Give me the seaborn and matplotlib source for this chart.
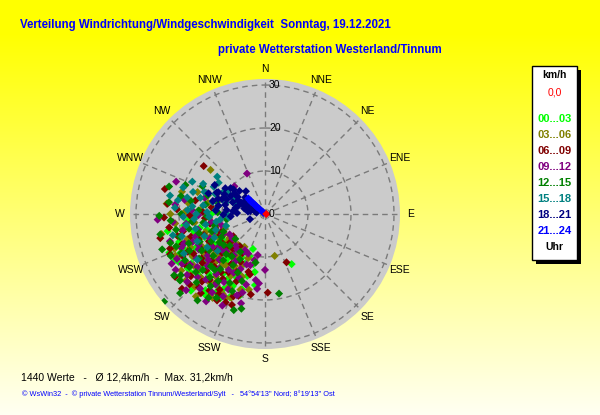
import numpy as np
import pandas as pd
import matplotlib
matplotlib.use('Agg')
import matplotlib.pyplot as plt
import seaborn as sns
from matplotlib.patches import Rectangle
from matplotlib import transforms

# ---------------- data (direction in degrees, speed in km/h) ----------------
hour_00_03 = [(197,18.3),(199,8.6),(190,13.7),(236,20.7),(229,20.9),(204,18.3),(211,14.9),(215,17.0),(222,19.5),(240,16.0),
              (245,22.0),(250,18.5),(232,12.5),(218,22.5),(208,11.5),(226,15.5),(238,13.0),(255,14.0),(262,19.0),(248,24.0),
              (214,20.0),(220,13.5),(227,24.0),(233,17.5),(243,11.0),(252,21.0),(258,15.5),(265,18.0),(270,12.5),(224,10.5),
              (212,21.5),(206,16.0),(217,9.5),(230,19.0),(241,23.0),(247,12.0),(235,22.0),(228,16.5),(219,14.5),(209,20.0),
              (244,18.0),(253,9.5),(260,23.0),(237,14.0),(225,12.0),(202,12.5),(216,11.0),(231,14.5),(239,19.5),(256,17.0),
              (152,13.2),(201,15.5),(207,19.0),(213,12.0),(221,17.0),(234,10.0),(242,14.0),(246,20.5),(226,21.0),(218,15.0),
              (210,17.5),(203,21.0),(236,16.5),(229,11.5),(215,22.0),(223,19.0),(239,11.5),(249,15.0),(232,22.0),(205,10.0),
              (196,15.0),(232,25.0),(216,23.4),(208,22.2),(197,19.7),(224,24.8),(188,16.7),(243,23.5),(193,12.0),(200,10.5)]
hour_03_06 = [(167,10.0),(309,16.3),(210,14.0),(218,18.5),(225,21.0),(232,15.0),(240,19.5),(248,13.5),(255,20.5),(263,16.5),
              (270,22.0),(278,18.0),(285,20.0),(214,23.0),(222,12.0),(229,17.5),(236,23.5),(244,10.5),(251,16.0),(259,24.5),
              (266,13.0),(274,15.0),(206,19.0),(212,9.0),(220,15.5),(227,10.0),(234,20.5),(242,14.5),(249,22.5),(257,11.5),
              (264,21.0),(272,18.5),(281,13.5),(200,15.5),(238,17.0),(246,19.0),(253,14.5),(261,18.5),(226,13.0),(233,11.0),
              (219,20.5),(241,12.0),(268,17.0),(276,23.0),(288,16.5),(205,21.5),(215,12.5),(223,17.0),(231,22.5),(250,10.0),
              (198,18.5),(204,13.0),(209,16.5),(216,20.0),(221,9.5),(228,14.5),(235,18.5),(243,16.5),(230,20.0),(224,23.5),
              (211,11.5),(217,15.0),(239,21.5),(247,13.0),(208,21.0),(236,10.0),(252,19.0),(201,11.0),(226,16.0),(233,13.5),
              (230,24.0),(212,23.0),(202,21.0),(245,23.0),(220,25.0),(192,18.0)]
hour_06_09 = [(308,18.1),(156,12.3),(178,18.3),(276,22.8),(219,23.7),(212,16.0),(220,20.0),(228,13.5),(235,18.0),(243,21.5),
              (251,15.0),(258,19.5),(266,14.0),(273,20.5),(281,16.5),(207,12.5),(216,22.0),(224,17.0),(231,10.5),(239,14.5),
              (247,24.0),(254,12.0),(262,22.5),(269,17.5),(284,24.0),(203,17.0),(211,20.5),(222,11.0),(230,22.5),(237,16.0),
              (245,11.5),(253,18.0),(260,13.0),(268,23.5),(277,12.5),(214,14.0),(226,19.0),(233,14.0),(241,19.0),(249,16.5),
              (256,21.0),(264,17.0),(272,14.5),(198,20.0),(209,23.0),(218,9.5),(236,12.0),(257,25.0),(244,20.0),(229,16.5),
              (196,14.0),(201,20.5),(206,15.0),(213,18.0),(219,12.5),(225,15.0),(232,18.5),(238,22.0),(244,14.5),(250,20.5),
              (210,10.5),(217,17.0),(223,21.5),(229,12.0),(235,9.0),(242,17.0),(248,11.0),(204,22.5),(227,24.0),(215,19.5),
              (235,25.5),(222,23.0),(210,21.5),(200,22.5),(250,23.5),(228,26.0),(190,19.0),(194,14.5)]
hour_09_12 = [(336,10.3),(180,13.0),(312,9.6),(242,24.6),(185,16.2),(188,15.5),(195,17.0),(200,12.5),(207,21.5),(213,15.5),
              (221,23.0),(228,18.0),(235,13.0),(242,17.5),(250,20.0),(257,16.0),(265,21.5),(273,17.0),(280,19.0),(204,14.0),
              (211,18.5),(217,12.0),(225,15.0),(232,20.0),(239,22.5),(246,14.0),(254,23.0),(261,12.5),(269,15.5),(290,22.0),
              (193,11.0),(199,20.0),(215,20.0),(223,10.0),(230,13.0),(237,19.0),(244,11.0),(252,17.0),(259,19.5),(267,25.0),
              (276,21.0),(209,10.0),(220,16.5),(227,21.5),(234,16.5),(248,21.0),(256,10.5),(263,18.5),(285,14.5),(240,9.5),
              (196,19.0),(202,16.0),(206,19.5),(212,13.0),(219,18.0),(226,12.5),(231,17.0),(238,14.5),(245,17.0),(251,12.5),
              (208,15.5),(214,22.0),(222,20.5),(229,24.0),(236,21.0),(243,23.0),(218,10.5),(233,9.5),(203,10.0),(249,18.0),
              (226,25.5),(214,24.5),(205,23.5),(195,21.5),(238,24.5),(186,17.5),(232,23.0),(196,12.4),(190,9.7),(209,9.6)]
hour_12_15 = [(286,23.2),(269,24.6),(259,24.8),(251,25.3),(229,31.1),(194,22.7),(170,18.8),(282,20.0),(290,19.7),(234,24.2),
              (232,25.1),(294,15.9),(215,19.0),(222,14.5),(230,21.0),(237,15.5),(244,19.5),(252,13.0),(259,18.0),(266,22.0),
              (273,15.5),(280,17.5),(288,14.0),(210,22.5),(218,12.5),(226,17.5),(233,12.0),(240,21.5),(247,16.5),(255,20.5),
              (262,14.5),(270,19.5),(277,22.5),(284,11.5),(205,15.0),(213,10.5),(221,19.5),(228,11.0),(236,18.5),(243,14.0),
              (250,22.0),(257,12.0),(264,17.0),(272,11.0),(279,14.0),(225,22.5),(247,10.5),(268,13.5),(240,17.0),(262,9.0),
              (199,16.5),(207,18.0),(212,14.0),(219,16.5),(224,13.0),(231,15.5),(238,12.5),(245,21.5),(217,21.0),(228,19.5),
              (235,21.5),(242,11.5),(249,19.0),(209,12.0),(222,17.5),(203,19.5),(214,23.5),(230,9.0),(254,16.0),(260,21.0),
              (236,25.5),(218,25.5),(198,23.5),(246,24.0),(227,27.0),(253,23.0),(191,11.5)]
hour_15_18 = [(308,14.1),(252,12.0),(258,16.5),(263,10.5),(268,19.0),(272,13.5),(276,17.0),(280,11.0),(284,15.5),(288,20.0),
              (292,12.5),(296,16.0),(300,10.0),(304,13.0),(255,20.0),(260,14.0),(265,8.5),(270,16.0),(274,21.0),(278,14.5),
              (282,18.5),(286,9.5),(290,15.0),(294,18.5),(298,13.5),(302,8.5),(248,17.0),(253,9.5),(257,22.0),(262,18.5),
              (267,13.0),(271,9.0),(275,11.5),(279,20.5),(283,12.5),(287,17.5),(291,10.0),(295,8.0),(245,13.0),(240,15.5),
              (236,19.0),(232,14.0),(244,21.0),(250,15.0),(261,11.5),(266,16.5),(273,18.0),(281,22.5),(289,7.5),(297,11.0)]
hour_18_21 = [(320,6.9),(251,3.7),(308,9.3),(307,10.0),(280,11.0),(279,2.0),(294,12.3),(289,10.6),(269,9.7),(300,4.0),
              (296,6.0),(290,8.0),(285,5.0),(292,3.0),(302,7.5),(298,9.0),(288,11.5),(282,7.0),(276,9.0),(272,6.5),
              (286,2.5),(293,5.5),(299,2.0),(305,4.5),(310,6.0),(304,8.5),(296,10.5),(283,9.5),(278,4.0),(274,11.5),
              (287,6.5),(291,9.5),(297,7.0),(301,5.5),(306,3.0),(295,12.0),(284,12.5),(281,3.5),(289,4.5),(303,11.0),
              (266,8.0),(275,7.5),(312,8.0),(300,13.5),(290,14.0)]
hour_21_24 = [(313,5.3),(312,4.9),(313,4.6),(311,4.2),(312,3.8),(313,3.3),(312,2.9),(311,2.5),(313,2.0),(312,1.6),
              (312,1.1),(314,0.7),(310,0.4)]
calm = [(90,0.3)]

hour_labels = ["00...03", "03...06", "06...09", "09...12", "12...15", "15...18", "18...21", "21...24"]
hour_colors = ["#00FF00", "#808000", "#800000", "#800080", "#008000", "#008080", "#000080", "#0000FF"]
calm_label = "0,0"
calm_color = "#FF0000"
direction_labels = ["N", "NNE", "NE", "ENE", "E", "ESE", "SE", "SSE",
                    "S", "SSW", "SW", "WSW", "W", "WNW", "NW", "NNW"]
ring_values = [0, 10, 20, 30]

# ---------------- build table ----------------
rows = []
for lab, pts in zip(hour_labels + [calm_label],
                    [hour_00_03, hour_03_06, hour_06_09, hour_09_12, hour_12_15,
                     hour_15_18, hour_18_21, hour_21_24, calm]):
    for d, v in pts:
        rows.append((np.deg2rad(d), v, lab))
df = pd.DataFrame(rows, columns=["theta", "r", "hour"])

sns.set_theme(style="white")
plt.rcParams['font.family'] = ['Liberation Sans', 'DejaVu Sans']

W, H = 600, 415
fig = plt.figure(figsize=(W / 100, H / 100), dpi=100)

def fx(x):
    return x / W

def fy(y):
    return 1 - y / H

# background gradient
bg = fig.add_axes([0, 0, 1, 1], zorder=-5)
g = np.linspace(0, 1, 300)
img = np.ones((300, 1, 3))
img[:, 0, 2] = np.clip((g - 0.08) / 0.92, 0, 1) * 0.95
bg.imshow(img, aspect='auto', extent=[0, 1, 0, 1], origin='upper')
bg.set_axis_off()

# polar axes
cx, cy, R = 265, 214, 135
ax = fig.add_axes([fx(cx - R), fy(cy + R), 2 * R / W, 2 * R / H], projection='polar')
ax.set_theta_zero_location('N')
ax.set_theta_direction(-1)
ax.set_facecolor('#CBCBCB')

sns.scatterplot(data=df, x="theta", y="r", hue="hour",
                hue_order=hour_labels + [calm_label],
                palette=hour_colors + [calm_color],
                marker='D', s=17, linewidth=0, legend=False, ax=ax, zorder=3)
ax.set_xlabel("")
ax.set_ylabel("")
rmax = 31.4
ax.set_ylim(0, rmax)
ax.set_xticks(np.deg2rad(np.arange(0, 360, 22.5)))
ax.set_xticklabels([])
ax.set_yticks([10, 20, 30])
ax.set_yticklabels([])
ax.grid(True, color='#7A7A7A', linestyle=(0, (4, 3)), linewidth=1)
ax.spines['polar'].set_visible(False)
ax.set_axisbelow(True)
ax.tick_params(length=0)

offset = transforms.ScaledTranslation(0.04, 0, fig.dpi_scale_trans)
for rv in ring_values:
    ax.text(0, rv, str(rv), transform=ax.transData + offset, ha='left', va='center',
            fontsize=7.5, color='black', zorder=5)

for i, lab in enumerate(direction_labels):
    ax.text(np.deg2rad(i * 22.5), 33.8, lab, ha='center', va='center',
            fontsize=7.5, color='black', clip_on=False)

# titles
fig.text(fx(20), fy(25), "Verteilung Windrichtung/Windgeschwindigkeit  Sonntag, 19.12.2021",
         color='#0000FF', fontsize=8.3, fontweight='bold', ha='left', va='center')
fig.text(fx(218), fy(50), "private Wetterstation Westerland/Tinnum",
         color='#0000FF', fontsize=8.3, fontweight='bold', ha='left', va='center')

# legend box
bx0, bx1, by0, by1 = 531.7, 577.3, 66, 260
fig.add_artist(Rectangle((fx(bx0 + 4), fy(by1 + 4)), (bx1 - bx0) / W, (by1 - by0) / H,
                         transform=fig.transFigure, facecolor='black', edgecolor='none'))
fig.add_artist(Rectangle((fx(bx0), fy(by1)), (bx1 - bx0) / W, (by1 - by0) / H,
                         transform=fig.transFigure, facecolor='white', edgecolor='black', linewidth=1))
lx = 554.5
fig.text(fx(lx), fy(75), "km/h", color='black', fontsize=7.5, fontweight='bold', ha='center', va='center')
fig.text(fx(lx), fy(92.3), calm_label, color=calm_color, fontsize=7.5, ha='center', va='center')
ys = [119.3, 135, 150.8, 166.7, 182.5, 198.5, 215, 231]
for lab, col, yy in zip(hour_labels, hour_colors, ys):
    fig.text(fx(lx), fy(yy), lab, color=col, fontsize=8, fontweight='bold', ha='center', va='center')
fig.text(fx(lx), fy(246.7), "Uhr", color='black', fontsize=7.5, fontweight='bold', ha='center', va='center')

# footer
fig.text(fx(21), fy(377), "1440 Werte   -   \u00d8 12,4km/h  -  Max. 31,2km/h",
         color='black', fontsize=7.5, ha='left', va='center')
fig.text(fx(22), fy(394.5),
         "\u00a9 WsWin32  -  \u00a9 private Wetterstation Tinnum/Westerland/Sylt   -   54\u00b054'13'' Nord; 8\u00b019'13'' Ost",
         color='#0000FF', fontsize=5.3, ha='left', va='center')

fig.savefig("out.png", dpi=100)
